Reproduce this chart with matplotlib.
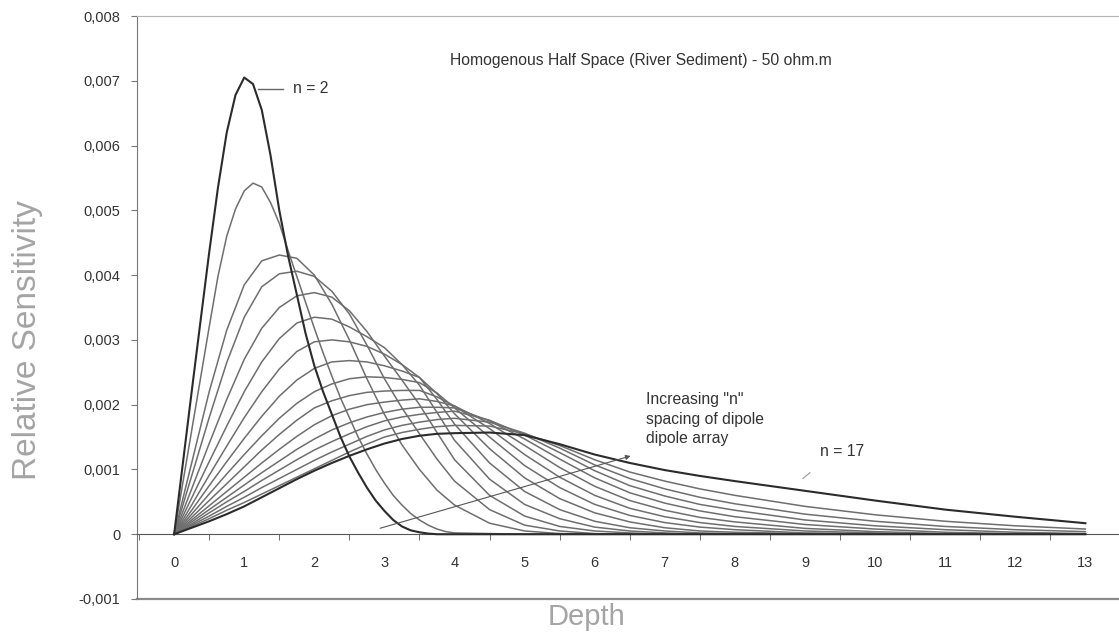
import matplotlib
matplotlib.use('Agg')
import matplotlib.pyplot as plt
from matplotlib.ticker import FixedLocator, FuncFormatter

plt.rcParams['font.family'] = ['Liberation Sans', 'DejaVu Sans']

# depth samples (category axis 0..13)
# finer sampling for the two sharp, shallow curves
depth_fine = [0, 0.125, 0.25, 0.375, 0.5, 0.625, 0.75, 0.875, 1, 1.125, 1.25,
              1.375, 1.5, 1.625, 1.75, 1.875, 2, 2.125, 2.25, 2.375, 2.5, 2.625,
              2.75, 2.875, 3, 3.125, 3.25, 3.375, 3.5, 3.625, 3.75, 3.875, 4,
              5, 6, 7, 8, 9, 10, 11, 12, 13]
depth = [0, 0.25, 0.5, 0.75, 1, 1.25, 1.5, 1.75, 2, 2.25, 2.5, 2.75, 3, 3.25,
         3.5, 3.75, 4, 4.5, 5, 5.5, 6, 6.5, 7, 7.5, 8, 9, 10, 11, 12, 13]

# relative sensitivity, in units of 0.001, one list per dipole spacing n
n2 = [0, 1.1, 2.2, 3.28, 4.35, 5.35, 6.2, 6.78, 7.05, 6.95, 6.55, 5.85, 5.0,
      4.3, 3.7, 3.1, 2.6, 2.2, 1.85, 1.5, 1.2, 0.95, 0.72, 0.52, 0.36, 0.22,
      0.12, 0.06, 0.03, 0.01, 0, 0, 0, 0, 0, 0, 0, 0, 0, 0, 0, 0]
n3 = [0, 0.8, 1.6, 2.4, 3.2, 3.98, 4.6, 5.02, 5.3, 5.42, 5.36, 5.12, 4.8,
      4.38, 3.98, 3.58, 3.18, 2.8, 2.44, 2.1, 1.8, 1.5, 1.24, 1.0, 0.79, 0.6,
      0.45, 0.32, 0.22, 0.14, 0.08, 0.04, 0.02, 0, 0, 0, 0, 0, 0, 0, 0, 0]
n4 = [0, 1.1, 2.2, 3.15, 3.85, 4.22, 4.31, 4.26, 4.0, 3.55, 3.0, 2.4, 1.85,
      1.38, 1.0, 0.68, 0.45, 0.17, 0.05, 0.01, 0, 0, 0, 0, 0, 0, 0, 0, 0, 0]
n5 = [0, 0.9, 1.8, 2.65, 3.35, 3.82, 4.02, 4.06, 3.98, 3.75, 3.4, 2.92, 2.4,
      1.95, 1.55, 1.16, 0.82, 0.38, 0.14, 0.05, 0.01, 0, 0, 0, 0, 0, 0, 0, 0, 0]
n6 = [0, 0.7, 1.4, 2.08, 2.7, 3.18, 3.5, 3.68, 3.73, 3.66, 3.45, 3.13, 2.75,
      2.38, 2.0, 1.57, 1.15, 0.6, 0.28, 0.12, 0.05, 0.02, 0, 0, 0, 0, 0, 0, 0, 0]
n7 = [0, 0.56, 1.12, 1.67, 2.2, 2.66, 3.02, 3.26, 3.35, 3.32, 3.2, 3.05, 2.88,
      2.62, 2.3, 1.88, 1.45, 0.85, 0.46, 0.24, 0.11, 0.05, 0.02, 0, 0, 0, 0, 0, 0, 0]
n8 = [0, 0.45, 0.91, 1.36, 1.8, 2.2, 2.55, 2.82, 2.97, 3.0, 2.97, 2.9, 2.78,
      2.62, 2.42, 2.08, 1.7, 1.1, 0.66, 0.38, 0.2, 0.1, 0.05, 0.02, 0.01, 0, 0, 0, 0, 0]
n9 = [0, 0.37, 0.75, 1.12, 1.48, 1.82, 2.13, 2.38, 2.56, 2.66, 2.68, 2.66, 2.6,
      2.52, 2.42, 2.17, 1.86, 1.32, 0.87, 0.55, 0.33, 0.19, 0.1, 0.05, 0.03, 0.01, 0, 0, 0, 0]
n10 = [0, 0.31, 0.62, 0.93, 1.23, 1.52, 1.79, 2.02, 2.2, 2.32, 2.4, 2.43, 2.42,
       2.39, 2.34, 2.18, 1.95, 1.5, 1.06, 0.72, 0.46, 0.29, 0.18, 0.11, 0.07, 0.02, 0.01, 0, 0, 0]
n11 = [0, 0.26, 0.52, 0.78, 1.04, 1.3, 1.54, 1.76, 1.95, 2.06, 2.14, 2.19, 2.21,
       2.22, 2.22, 2.12, 1.98, 1.63, 1.23, 0.88, 0.6, 0.4, 0.27, 0.18, 0.12, 0.05, 0.02, 0, 0, 0]
n12 = [0, 0.22, 0.44, 0.66, 0.88, 1.1, 1.31, 1.51, 1.69, 1.83, 1.93, 2.0, 2.04,
       2.07, 2.09, 2.05, 1.98, 1.71, 1.37, 1.03, 0.74, 0.52, 0.37, 0.26, 0.19, 0.09, 0.04, 0.01, 0, 0]
n13 = [0, 0.19, 0.38, 0.57, 0.76, 0.95, 1.13, 1.31, 1.47, 1.61, 1.72, 1.81, 1.88,
       1.93, 1.96, 1.96, 1.95, 1.75, 1.47, 1.16, 0.87, 0.64, 0.48, 0.36, 0.27, 0.15, 0.08, 0.03, 0.01, 0]
n14 = [0, 0.16, 0.33, 0.5, 0.66, 0.83, 0.99, 1.15, 1.3, 1.43, 1.55, 1.66, 1.75,
       1.81, 1.85, 1.88, 1.9, 1.76, 1.53, 1.26, 0.98, 0.75, 0.59, 0.46, 0.37, 0.22, 0.13, 0.07, 0.03, 0.01]
n15 = [0, 0.14, 0.28, 0.43, 0.57, 0.72, 0.86, 1.0, 1.14, 1.27, 1.39, 1.51, 1.61,
       1.68, 1.73, 1.77, 1.79, 1.73, 1.56, 1.33, 1.07, 0.86, 0.7, 0.57, 0.47, 0.31, 0.2, 0.12, 0.07, 0.04]
n16 = [0, 0.12, 0.24, 0.37, 0.49, 0.62, 0.75, 0.88, 1.01, 1.14, 1.27, 1.39, 1.5,
       1.57, 1.62, 1.66, 1.68, 1.67, 1.55, 1.37, 1.15, 0.96, 0.82, 0.7, 0.6, 0.43, 0.3, 0.2, 0.13, 0.08]
n17 = [0, 0.1, 0.2, 0.31, 0.43, 0.57, 0.71, 0.85, 0.98, 1.1, 1.21, 1.31, 1.4,
       1.47, 1.52, 1.55, 1.56, 1.57, 1.53, 1.39, 1.23, 1.1, 0.99, 0.9, 0.82, 0.67, 0.52, 0.38, 0.27, 0.17]

curves = [(depth_fine, n2), (depth_fine, n3), (depth, n4), (depth, n5),
          (depth, n6), (depth, n7), (depth, n8), (depth, n9), (depth, n10),
          (depth, n11), (depth, n12), (depth, n13), (depth, n14), (depth, n15),
          (depth, n16), (depth, n17)]

fig = plt.figure(figsize=(11.19, 6.4), dpi=100)
ax = fig.add_axes([137 / 1119, 41 / 640, 982 / 1119, 583 / 640])

for i, (d, c) in enumerate(curves):
    dark = i == 0 or i == len(curves) - 1
    ax.plot(d, [v / 1000 for v in c],
            color='#2b2b2b' if dark else '#6e6e6e',
            lw=1.5 if dark else 1.1, zorder=3 if dark else 2)

ax.set_xlim(-0.53, 13.48)
ax.set_ylim(-0.001, 0.008)

# category style x axis sitting on y = 0
ax.spines['bottom'].set_position(('data', 0))
ax.spines['bottom'].set_color('#555555')
ax.spines['right'].set_visible(False)
ax.spines['top'].set_color('#b5b5b5')
ax.spines['left'].set_color('#777777')
ax.axhline(-0.001, color='#8a8a8a', lw=1.6, clip_on=False)

ax.xaxis.set_major_locator(FixedLocator(range(0, 14)))
ax.xaxis.set_minor_locator(FixedLocator([k + 0.5 for k in range(-1, 14)]))
ax.tick_params(axis='x', which='major', length=0, pad=16, labelsize=10.5,
               labelcolor='#333333')
ax.tick_params(axis='x', which='minor', length=4, direction='out', color='#555555')

ax.set_yticks([k / 1000 for k in range(-1, 9)])
ax.yaxis.set_major_formatter(FuncFormatter(
    lambda v, p: '0' if abs(v) < 1e-9 else ('%.3f' % v).replace('.', ',')))
ax.tick_params(axis='y', length=4, direction='out', labelsize=10.5,
               labelcolor='#333333', color='#777777', pad=8)

fig.text(28 / 1119, 1 - 340 / 640, 'Relative Sensitivity', rotation=90,
         ha='center', va='center', fontsize=24, color='#a4a4a4')
fig.text(586 / 1119, 1 - 617 / 640, 'Depth', ha='center', va='center',
         fontsize=21, color='#a4a4a4')

ax.text(3.94, 0.00732, 'Homogenous Half Space (River Sediment) - 50 ohm.m',
        fontsize=11.3, color='#333333', va='center')

# labels for first and last curve
ax.plot([1.2, 1.555], [0.00688, 0.00688], color='#666666', lw=1)
ax.text(1.7, 0.00688, 'n = 2', fontsize=11.3, color='#333333', va='center')
ax.plot([8.97, 9.07], [0.00086, 0.00095], color='#999999', lw=0.8)
ax.text(9.22, 0.00127, 'n = 17', fontsize=11.3, color='#333333', va='center')

ax.annotate('', xy=(6.55, 0.00122), xytext=(2.9, 0.00008),
            arrowprops=dict(arrowstyle='-|>', color='#555555', lw=0.8,
                            mutation_scale=7))
ax.text(6.73, 0.00219, 'Increasing "n"\nspacing of dipole\ndipole array',
        fontsize=11.3, color='#333333', va='top', linespacing=1.37)

fig.savefig('out.png', dpi=100)
